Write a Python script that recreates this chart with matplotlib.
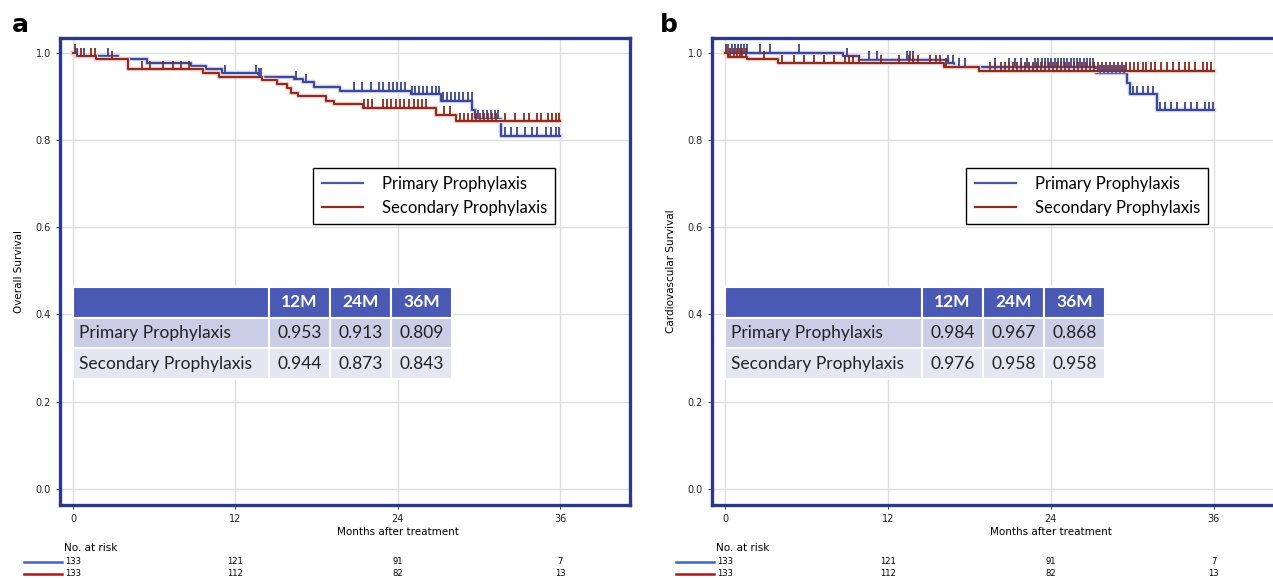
import numpy as np
import matplotlib.pyplot as plt
import matplotlib.patheffects as pe
from matplotlib.transforms import blended_transform_factory

# ---- data ----
months = [0, 12, 24, 36]
risk_primary = [133, 121, 91, 7]
risk_secondary = [133, 112, 82, 13]

table_cols = ['12M', '24M', '36M']
table_rows = ['Primary Prophylaxis', 'Secondary Prophylaxis']
os_table = [['0.953', '0.913', '0.809'], ['0.944', '0.873', '0.843']]
cv_table = [['0.984', '0.967', '0.868'], ['0.976', '0.958', '0.958']]

# panel a, overall survival
os_prim_t = [0, 0.2, 3.3, 5.5, 8.7, 9.8, 11.0, 13.7, 16.3, 17.0, 17.8, 19.7, 25.0, 27.2, 29.5, 29.7, 31.6]
os_prim_s = [1.0, 0.992, 0.985, 0.977, 0.970, 0.962, 0.953, 0.945, 0.939, 0.932, 0.922, 0.913, 0.905, 0.890, 0.870, 0.848, 0.809]
os_prim_cens = [0.30, 0.84, 2.56, 11.23, 13.55, 13.73, 13.92, 16.48, 17.23, 20.78, 21.39, 21.99, 22.59, 22.95,
                23.34, 23.64, 23.95, 24.25, 24.55, 25.06, 25.30, 25.60, 25.90, 26.20, 26.51, 26.81, 27.05, 27.35,
                27.65, 27.95, 28.25, 28.55, 28.86, 29.22, 29.46, 29.97, 30.27, 30.57, 30.87, 31.17, 31.39, 31.93,
                32.38, 32.83, 33.43, 33.89, 34.28, 34.94, 35.30, 35.69, 35.9]
os_sec_t = [0, 0.3, 1.7, 4.1, 9.6, 10.8, 14.0, 15.1, 15.8, 16.1, 16.6, 18.7, 19.3, 21.4, 26.8, 28.3]
os_sec_s = [1.0, 0.992, 0.985, 0.962, 0.953, 0.944, 0.937, 0.928, 0.920, 0.909, 0.900, 0.890, 0.882, 0.873, 0.858, 0.843]
os_sec_cens = [0.15, 0.6, 1.36, 1.66, 2.86, 5.12, 5.72, 6.63, 7.38, 7.98, 8.58, 21.5, 21.8, 22.1, 22.9, 23.2,
               23.5, 23.9, 24.2, 24.5, 24.8, 25.2, 25.5, 25.8, 26.1, 27.4, 27.9, 28.6, 28.9, 29.2, 29.5, 29.8,
               30.1, 30.4, 30.7, 31.0, 31.3, 31.9, 32.7, 33.3, 33.7, 34.3, 34.6, 35.1, 35.4, 35.7, 35.9]

# panel b, cardiovascular survival
cv_prim_t = [0, 8.66, 9.85, 16.4, 16.9, 27.3, 29.6, 29.8, 31.8]
cv_prim_s = [1.0, 0.992, 0.984, 0.976, 0.967, 0.953, 0.930, 0.905, 0.868]
cv_prim_cens = [0.21, 0.51, 0.75, 0.99, 1.19, 1.40, 1.64, 2.54, 3.28, 5.46, 8.96, 10.60, 11.19, 13.43, 13.64,
                13.88, 16.42, 16.81, 17.22, 17.70, 19.85, 20.90, 21.34, 21.79, 22.24, 22.84, 23.07, 23.31, 23.55,
                23.79, 24.03, 24.27, 24.51, 24.75, 24.99, 25.22, 25.46, 25.70, 25.94, 26.18, 26.42, 26.66, 26.90,
                27.13, 27.61, 27.91, 28.21, 28.51, 28.81, 29.10, 29.40, 30.06, 30.36, 30.75, 31.13, 31.49, 32.03,
                32.39, 32.84, 33.28, 33.88, 34.33, 34.78, 35.37, 35.67, 35.97]
cv_sec_t = [0, 0.2, 1.64, 3.9, 16.1, 18.7]
cv_sec_s = [1.0, 0.991, 0.985, 0.976, 0.968, 0.958]
cv_sec_cens = [0.09, 0.39, 0.63, 0.90, 1.10, 1.28, 1.58, 2.84, 4.18, 5.07, 5.82, 6.57, 7.31, 8.06, 8.81, 9.10,
               9.40, 9.85, 11.49, 12.84, 13.52, 13.88, 14.18, 15.07, 15.52, 15.82, 16.27, 19.55, 19.85, 20.30,
               20.60, 20.90, 21.19, 21.49, 21.79, 22.09, 22.39, 22.69, 22.99, 23.28, 23.58, 23.88, 24.18, 24.48,
               24.78, 25.07, 25.37, 25.67, 25.97, 26.27, 26.57, 26.87, 27.16, 27.46, 27.76, 28.06, 28.36, 28.66,
               28.96, 29.25, 29.55, 29.85, 30.15, 30.45, 30.75, 31.04, 31.34, 31.64, 32.09, 32.54, 32.99, 33.43,
               33.88, 34.18, 34.63, 35.22, 35.52, 35.82]

BLUE = '#3a4596'
RED = '#8c2a1c'
FRAME = '#2c3a86'
FONT = 'Lato'

fig = plt.figure(figsize=(12.73, 5.78), dpi=100)


def km(ax, t, s, cens, color, halo):
    tt = list(t) + [36]
    ss = list(s) + [s[-1]]
    ax.step(tt, ss, where='post', color=color, lw=1.4, zorder=4,
            path_effects=[pe.Stroke(linewidth=3.2, foreground=halo), pe.Normal()])
    idx = np.searchsorted(t, cens, side='right') - 1
    lvl = np.array(s)[idx]
    ax.vlines(cens, lvl, lvl + 0.02, color=color, lw=1.3, zorder=5)


def panel(rect, label, ylabel, curves, tab, leg_anchor, lab_x):
    ax = fig.add_axes(rect)
    ax.set_xlim(-0.96, 41.17)
    ax.set_ylim(-0.037, 1.034)
    ax.set_xticks(months)
    ax.set_yticks([0, 0.2, 0.4, 0.6, 0.8, 1.0])
    ax.set_yticklabels(['0.0', '0.2', '0.4', '0.6', '0.8', '1.0'])
    ax.grid(True, color='#dedede', lw=1, zorder=0)
    ax.set_axisbelow(True)
    ax.tick_params(labelsize=7, colors='#222222', length=3, width=0.6)
    for sp in ax.spines.values():
        sp.set_color(FRAME)
        sp.set_linewidth(2.4)
    ax.set_ylabel(ylabel, fontsize=7.5, labelpad=8)
    ax.set_xlabel('Months after treatment', fontsize=7.5)
    ax.xaxis.set_label_coords((24 + 0.96) / 42.13, -0.048)

    for t, s, c, col, halo in curves:
        km(ax, t, s, c, col, halo)

    # legend
    h1, = ax.plot([], [], color='#4a58b4', lw=1.6)
    h2, = ax.plot([], [], color='#962a1a', lw=1.6)
    leg = ax.legend([h1, h2], table_rows, loc='upper left', bbox_to_anchor=leg_anchor,
                    prop={'family': FONT, 'size': 12}, fancybox=False, framealpha=1,
                    edgecolor='black', handlelength=2.5, handletextpad=1.1,
                    borderpad=0.5, labelspacing=0.45)
    leg.get_frame().set_linewidth(1.0)

    # survival table
    cells = [[''] + table_cols] + [[r] + v for r, v in zip(table_rows, tab)]
    tb = ax.table(cellText=cells, bbox=[0.0228, 0.2698, 0.665, 0.197],
                  colWidths=[196, 61, 61, 61], cellLoc='center')
    tb.set_zorder(6)
    tb.auto_set_font_size(False)
    shades = ['#4a59b3', '#c9cde6', '#e4e6f2']
    for (r, c), cell in tb.get_celld().items():
        cell.set_facecolor(shades[r])
        cell.set_edgecolor('white')
        cell.set_linewidth(1.5)
        txt = cell.get_text()
        txt.set_fontfamily(FONT)
        txt.set_fontsize(12.5)
        if r == 0:
            txt.set_color('white')
            txt.set_fontweight('bold')
        else:
            txt.set_color('#222222')
        if c == 0:
            cell.set_text_props(ha='left')
            cell.PAD = 0.03

    # numbers at risk
    tr = blended_transform_factory(ax.transData, fig.transFigure)
    ax.text(-0.7, 1 - 548 / 578, 'No. at risk', transform=tr, fontsize=7.5, va='center', ha='left')
    for yy, vals, col in [(562, risk_primary, '#4464c4'), (574, risk_secondary, '#b01414')]:
        ax.plot([-3.6, -0.8], [1 - yy / 578] * 2, color=col, lw=1.8, transform=tr, clip_on=False)
        for m, v in zip(months, vals):
            ax.text(m, 1 - yy / 578, str(v), transform=tr, fontsize=6, ha='center', va='center')

    fig.text(lab_x, 1 - 25 / 578, label, fontsize=18, fontweight='bold', va='center')
    return ax


panel([60 / 1273, 73 / 578, 570 / 1273, 467 / 578], 'a', 'Overall Survival',
      [(os_prim_t, os_prim_s, os_prim_cens, BLUE, '#c9cde8'),
       (os_sec_t, os_sec_s, os_sec_cens, RED, '#eac9c4')],
      os_table, (0.43, 0.74), 12 / 1273)

panel([712 / 1273, 73 / 578, 572 / 1273, 467 / 578], 'b', 'Cardiovascular Survival',
      [(cv_prim_t, cv_prim_s, cv_prim_cens, BLUE, '#c9cde8'),
       (cv_sec_t, cv_sec_s, cv_sec_cens, RED, '#eac9c4')],
      cv_table, (0.43, 0.74), 660 / 1273)

fig.savefig('out.png', dpi=100)
